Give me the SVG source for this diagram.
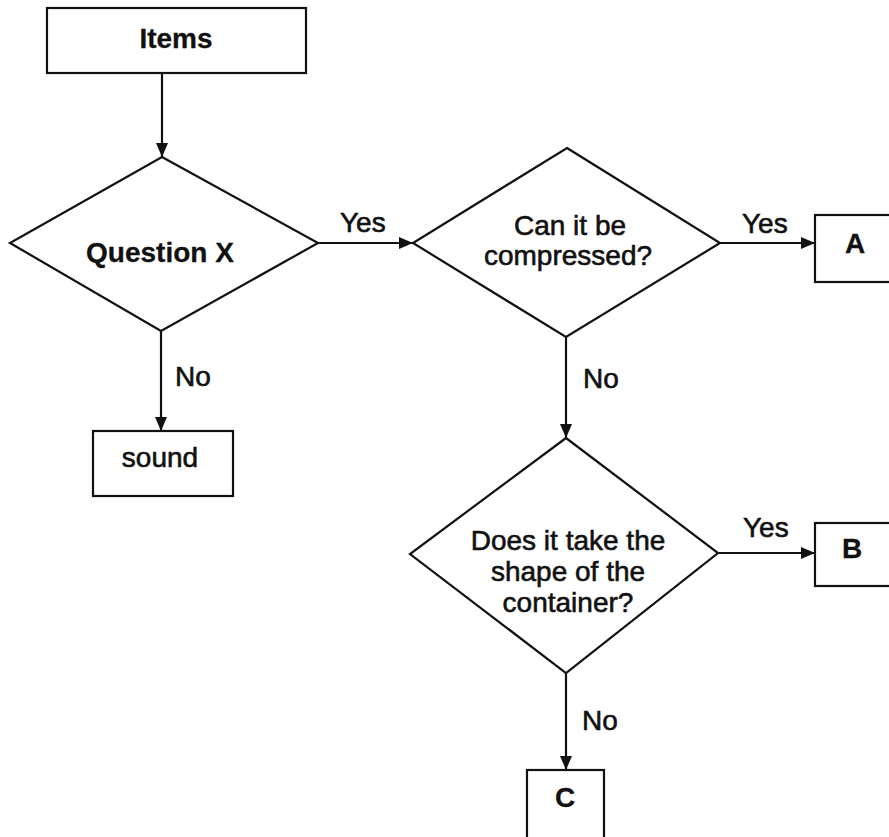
<svg xmlns="http://www.w3.org/2000/svg" width="889" height="837" viewBox="0 0 889 837">
  <defs>
    <marker id="arrow" viewBox="0 0 14 12" refX="14" refY="6" markerWidth="14" markerHeight="12" markerUnits="userSpaceOnUse" orient="auto">
      <path d="M0,0 L14,6 L0,12 Z" fill="#111"/>
    </marker>
  </defs>
  <style>
    .shape { fill: #fff; stroke: #111; stroke-width: 2.2; }
    .edge { fill: none; stroke: #111; stroke-width: 2.2; marker-end: url(#arrow); }
    text { font-family: "Liberation Sans", Arial, sans-serif; font-size: 28px; fill: #111; text-anchor: middle; stroke: #111; stroke-width: 0.6; }
    .bold { font-weight: bold; stroke-width: 0.3; }
    .lbl { text-anchor: start; }
  </style>
  <rect width="889" height="837" fill="#fff"/>

  <!-- connectors -->
  <g id="connectors">
    <line class="edge" x1="162" y1="73" x2="162" y2="157"/>
    <line class="edge" x1="318" y1="243" x2="413" y2="243"/>
    <text class="lbl" x="340" y="232">Yes</text>
    <line class="edge" x1="720" y1="243" x2="815" y2="243"/>
    <text class="lbl" x="742" y="233">Yes</text>
    <line class="edge" x1="161" y1="331" x2="161" y2="431"/>
    <text class="lbl" x="175" y="386">No</text>
    <line class="edge" x1="566" y1="337" x2="566" y2="438"/>
    <text class="lbl" x="583" y="388">No</text>
    <line class="edge" x1="718" y1="553" x2="815" y2="553"/>
    <text class="lbl" x="743" y="537">Yes</text>
    <line class="edge" x1="566" y1="673" x2="566" y2="770"/>
    <text class="lbl" x="582" y="730">No</text>
  </g>

  <!-- nodes -->
  <g id="items">
    <rect class="shape" x="47" y="8" width="259" height="65"/>
    <text class="bold" x="176" y="48">Items</text>
  </g>
  <g id="question-x">
    <polygon class="shape" points="162,157 318,243 161,331 10,243"/>
    <text class="bold" x="160" y="262">Question X</text>
  </g>
  <g id="compressed">
    <polygon class="shape" points="567,148 720,243 566,337 413,243"/>
    <text x="570" y="235">Can it be</text>
    <text x="568" y="265">compressed?</text>
  </g>
  <g id="box-a">
    <rect class="shape" x="815" y="215" width="90" height="67"/>
    <text class="bold" x="855" y="253">A</text>
  </g>
  <g id="sound">
    <rect class="shape" x="93" y="431" width="140" height="65"/>
    <text x="160" y="467">sound</text>
  </g>
  <g id="container">
    <polygon class="shape" points="566,438 718,553 566,673 410,554"/>
    <text x="568" y="550">Does it take the</text>
    <text x="568" y="581">shape of the</text>
    <text x="568" y="612">container?</text>
  </g>
  <g id="box-b">
    <rect class="shape" x="815" y="523" width="90" height="63"/>
    <text class="bold" x="852" y="558">B</text>
  </g>
  <g id="box-c">
    <rect class="shape" x="527" y="770" width="77" height="80"/>
    <text class="bold" x="565" y="807">C</text>
  </g>
</svg>
